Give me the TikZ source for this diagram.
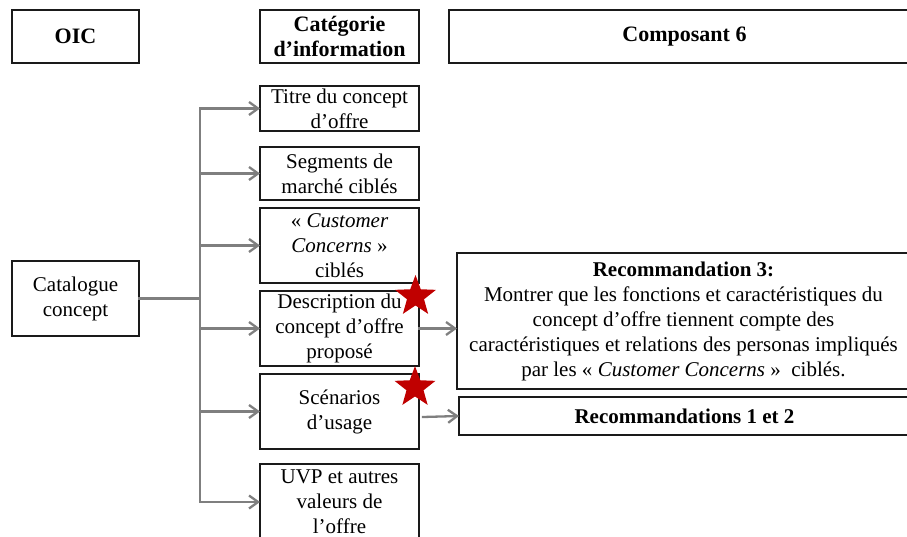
\documentclass[tikz,border=0pt]{standalone}
\usepackage{fontspec}
\setmainfont{Liberation Serif}
\usepackage{xcolor}
\usepackage{tikz}
\usetikzlibrary{arrows.meta,positioning,shapes.geometric}
\definecolor{OicLine}{HTML}{1A1A1A}
\definecolor{OicArrow}{HTML}{7F7F7F}
\definecolor{OicStar}{HTML}{C00000}

\begin{document}
\begin{tikzpicture}[x=1pt,y=-1pt,
  box/.style={draw=OicLine,line width=1.5pt,fill=white,inner sep=0pt,outer sep=0pt,align=center,font=\fontsize{21}{25}\selectfont},
  head/.style={box,minimum height=53pt,font=\fontsize{22}{25}\selectfont\bfseries},
  catbox/.style={box,minimum width=159pt},
  link/.style={draw=OicArrow,line width=2.3pt,line cap=rect},
  edge/.style={link,-{Straight Barb[length=9pt,width=13pt]}},
  redstar/.style={star,star points=5,star point ratio=2.4,minimum size=43pt,inner sep=0pt,fill=OicStar,draw=none}
]
\clip (0,0) rectangle (907,537);
% headings
\node[head,minimum width=127pt] (oic) at (75.5,36.5) {OIC};
\node[head,minimum width=159pt,right=121pt of oic] (cat) {Catégorie\\d’information};
\node[head,minimum width=471pt,right=30pt of cat] (comp) {Composant 6};
% categories
\node[catbox,minimum height=45pt,below=23pt of cat] (titre) {Titre du concept\\d’offre};
\node[catbox,minimum height=53pt,below=16pt of titre] (seg) {Segments de\\marché ciblés};
\node[catbox,minimum height=75pt,below=8pt of seg] (cust) {« \textit{Customer}\\\textit{Concerns} »\\ciblés};
\node[catbox,minimum height=75pt,below=8pt of cust] (desc) {Description du\\concept d’offre\\proposé};
\node[catbox,minimum height=75pt,below=8pt of desc] (scen) {Scénarios\\d’usage};
\node[catbox,minimum height=76pt,below=15pt of scen] (uvp) {UVP et autres\\valeurs de\\l’offre};
\node[box,minimum width=127pt,minimum height=75pt] (catalogue) at (75.5,298.5) {Catalogue\\concept};
% recommendations
\node[box,minimum width=453pt,minimum height=136pt] (rec3) at (683.5,321) {\textbf{Recommandation 3:}\\Montrer que les fonctions et caractéristiques du\\concept d’offre tiennent compte des\\caractéristiques et relations des personas impliqués\\par les « \textit{Customer Concerns} »~ ciblés.};
\node[box,minimum width=451pt,minimum height=38pt] (rec12) at (684.5,416) {\textbf{Recommandations 1 et 2}};
\coordinate (split) at (200,298.5);
\draw[link] (catalogue.east) -- (split);
\draw[link] (split |- titre.west) -- (split |- uvp.west);
\foreach \n in {titre,seg,cust,desc,scen,uvp}
  \draw[edge] (split |- \n.west) -- (\n.west);
\draw[edge] (desc.east) -- (rec3.west |- desc.east);
\draw[edge] ([shift={(4pt,-5.5pt)}]scen.east) -- (rec12.west);
% stars
\node[redstar] (stardesc) at ([shift={(-3.5pt,-5.5pt)}]desc.north east) {};
\node[redstar] (starscen) at ([shift={(-4pt,-13.5pt)}]scen.north east) {};
\end{tikzpicture}
\end{document}
